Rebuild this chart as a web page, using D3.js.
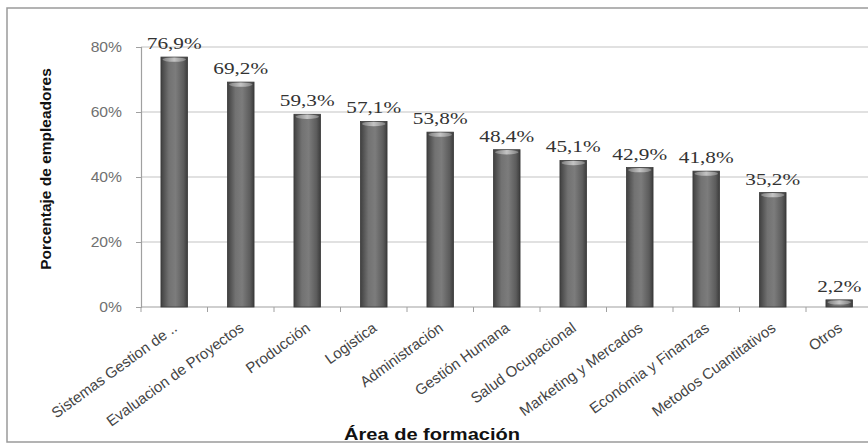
<!DOCTYPE html>
<html>
<head>
<meta charset="utf-8">
<script src="https://cdn.jsdelivr.net/npm/d3@7/dist/d3.min.js"></script>
<style>
  html, body { margin: 0; padding: 0; background: #fff; }
  svg { display: block; }
</style>
</head>
<body>
<svg id="chart" width="868" height="444"></svg>
<script>
// Áreas de formación y porcentaje de empleadores que las mencionan
const categories = [
  "Sistemas Gestion de ..", "Evaluacion de Proyectos", "Producción", "Logistica",
  "Administración", "Gestión Humana", "Salud Ocupacional", "Marketing y Mercados",
  "Económia y Finanzas", "Metodos Cuantitativos", "Otros"
];
const values = [76.9, 69.2, 59.3, 57.1, 53.8, 48.4, 45.1, 42.9, 41.8, 35.2, 2.2];
const yTicks = [0, 20, 40, 60, 80];
const yTitle = "Porcentaje de empleadores";
const xTitle = "Área de formación";

const svg = d3.select("#chart");
const W = 868, H = 444;

const plot = { left: 141, top: 47, bottom: 307, right: 872.5 };

const x = d3.scaleBand()
  .domain(categories)
  .range([plot.left, plot.right])
  .paddingInner(0.6)
  .paddingOuter(0.3);

const y = d3.scaleLinear()
  .domain([0, 80])
  .range([plot.bottom, plot.top]);

// Outer frame
svg.append("rect")
  .attr("x", 7).attr("y", 8)
  .attr("width", W + 20).attr("height", 434)
  .attr("fill", "#fff")
  .attr("stroke", "#9a9a9a")
  .attr("stroke-width", 1.5);

// Gradients for the cylinder-like bars
const defs = svg.append("defs");
const bodyGrad = defs.append("linearGradient").attr("id", "barBody")
  .attr("x1", "0").attr("x2", "1").attr("y1", "0").attr("y2", "0");
[["0%", "#404040"], ["30%", "#727272"], ["55%", "#7c7c7c"], ["85%", "#5c5c5c"], ["100%", "#3c3c3c"]]
  .forEach(([o, c]) => bodyGrad.append("stop").attr("offset", o).attr("stop-color", c));
const capGrad = defs.append("linearGradient").attr("id", "barCap")
  .attr("x1", "0").attr("x2", "1").attr("y1", "0").attr("y2", "0");
[["0%", "#808080"], ["50%", "#c4c4c4"], ["100%", "#808080"]]
  .forEach(([o, c]) => capGrad.append("stop").attr("offset", o).attr("stop-color", c));

// Horizontal grid lines
svg.append("g")
  .selectAll("line")
  .data(yTicks.filter(d => d > 0))
  .join("line")
  .attr("x1", plot.left).attr("x2", W)
  .attr("y1", d => y(d)).attr("y2", d => y(d))
  .attr("stroke", "#c4c4c4")
  .attr("stroke-width", 1.2);

// Y axis
const yAxis = svg.append("g")
  .attr("transform", `translate(${plot.left},0)`)
  .call(d3.axisLeft(y).tickValues(yTicks).tickSize(5).tickPadding(14).tickFormat(d => d + "%"));
yAxis.select(".domain").attr("stroke", "#a0a0a0").attr("stroke-width", 1.2);
yAxis.selectAll(".tick line").attr("stroke", "#a0a0a0");
yAxis.selectAll(".tick text")
  .attr("fill", "#707070")
  .attr("font-family", "Liberation Sans, Arial, sans-serif")
  .attr("font-size", 14)
  .attr("dy", "0.35em")
  .attr("transform", "scale(1.12,1)")
  .attr("x", -19 / 1.12);

// X axis with ticks between categories
const xAxisG = svg.append("g");
xAxisG.append("line")
  .attr("x1", plot.left).attr("x2", W)
  .attr("y1", plot.bottom).attr("y2", plot.bottom)
  .attr("stroke", "#a0a0a0").attr("stroke-width", 1.2);
const step = x.step();
xAxisG.selectAll("line.tk")
  .data(categories)
  .join("line")
  .attr("class", "tk")
  .attr("x1", d => x(d) - x.paddingInner() * step / 2)
  .attr("x2", d => x(d) - x.paddingInner() * step / 2)
  .attr("y1", plot.bottom).attr("y2", plot.bottom + 5)
  .attr("stroke", "#a0a0a0");

// Bars
const bars = svg.append("g");
bars.selectAll("rect")
  .data(values)
  .join("rect")
  .attr("x", (d, i) => x(categories[i]))
  .attr("y", d => y(d))
  .attr("width", x.bandwidth())
  .attr("height", d => plot.bottom - y(d))
  .attr("fill", "url(#barBody)")
  .attr("stroke", "#3a3a3a")
  .attr("stroke-width", 0.8);
bars.selectAll("ellipse")
  .data(values)
  .join("ellipse")
  .attr("cx", (d, i) => x(categories[i]) + x.bandwidth() / 2)
  .attr("cy", d => y(d) + 2.5)
  .attr("rx", x.bandwidth() / 2 - 1.5)
  .attr("ry", 2.2)
  .attr("fill", "url(#barCap)");

// Value labels
svg.append("g")
  .selectAll("text")
  .data(values)
  .join("text")
  .attr("transform", (d, i) =>
    `translate(${x(categories[i]) + x.bandwidth() / 2},${y(d) - 8}) scale(1.25,1)`)
  .attr("text-anchor", "middle")
  .attr("font-family", "Liberation Serif, Times New Roman, serif")
  .attr("font-size", 17)
  .attr("fill", "#333")
  .text(d => d.toFixed(1).replace(".", ",") + "%");

// Category labels, rotated
svg.append("g")
  .selectAll("text")
  .data(categories)
  .join("text")
  .attr("transform", d =>
    `translate(${x(d) + x.bandwidth() / 2 + 4},${plot.bottom + 23}) rotate(-36)`)
  .attr("text-anchor", "end")
  .attr("font-family", "Liberation Sans, Arial, sans-serif")
  .attr("font-size", 15)
  .attr("fill", "#444")
  .text(d => d);

// Axis titles
svg.append("text")
  .attr("transform", `translate(51,169) rotate(-90)`)
  .attr("text-anchor", "middle")
  .attr("font-family", "Liberation Sans, Arial, sans-serif")
  .attr("font-weight", "bold")
  .attr("font-size", 15.5)
  .attr("fill", "#111")
  .text(yTitle);

svg.append("text")
  .attr("transform", `translate(432,440) scale(1.18,1)`)
  .attr("text-anchor", "middle")
  .attr("font-family", "Liberation Sans, Arial, sans-serif")
  .attr("font-weight", "bold")
  .attr("font-size", 17)
  .attr("fill", "#111")
  .text(xTitle);
</script>
</body>
</html>
